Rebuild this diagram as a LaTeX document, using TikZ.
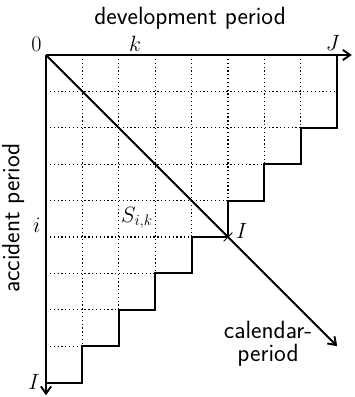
\documentclass[tikz,border=0pt]{standalone}
\usetikzlibrary{arrows.meta,calc}
\begin{document}
\begin{tikzpicture}[x=1cm,y=1cm,
  solid line/.style={line width=1.5pt},
  grid line/.style={line width=1pt, dotted},
  arrowline/.style={line width=1.5pt, -{Straight Barb[length=2mm,width=2.8mm]}},
  lbl/.style={font=\fontsize{17}{20}\selectfont, inner sep=0pt},
  slbl/.style={font=\fontsize{19.5}{22}\selectfont\sffamily, inner sep=0pt}]
\useasboundingbox (-1.264,1.511) rectangle (8.462,-9.396);
% coordinates
\coordinate (O) at (0,0);
\coordinate (xend) at (8.4,0);
\coordinate (yend) at (0,-9.35);
\coordinate (dend) at (8,-8);
\coordinate (P) at (5,-5);
% dotted grid
\foreach \c in {1,...,7} {
  \pgfmathtruncatemacro{\r}{9-\c}
  \draw[grid line] (\c,0) -- (\c,-\r);
}
\foreach \r in {1,...,8} {
  \pgfmathtruncatemacro{\c}{min(9-\r,8)}
  \draw[grid line] (0,-\r) -- (\c,-\r);
}
% staircase
\draw[solid line] (8,0) -- (8,-2) -- (7,-2) -- (7,-3) -- (6,-3) -- (6,-4) -- (5,-4) -- (5,-5) -- (4,-5) -- (4,-6) -- (3,-6) -- (3,-7) -- (2,-7) -- (2,-8) -- (1,-8) -- (1,-9) -- (0,-9);
% axes
\draw[arrowline] (O) -- (xend);
\draw[arrowline] (O) -- (yend);
\draw[arrowline] (O) -- (dend);
% small mark at P
\draw[line width=0.8pt] ($(P)+(-0.12,-0.12)$) -- ($(P)+(0.12,0.12)$);
% labels
\node[slbl] (dev) at (3.96,1.02) {development period};
\node[slbl, rotate=90] (acc) at (-0.9,-4.48) {accident period};
\node[slbl, align=center, font=\fontsize{19.5}{18}\selectfont\sffamily] (cal) at (6.1,-7.94) {calendar-\\period};
\node[lbl] (zero) at (-0.26,0.28) {$0$};
\node[lbl] (k) at (2.45,0.30) {$k$};
\node[lbl] (J) at (7.88,0.33) {$J$};
\node[lbl] (i) at (-0.25,-4.67) {$i$};
\node[lbl] (S) at (2.5,-4.48) {$S_{i,k}$};
\node[lbl] (Imid) at (5.38,-4.84) {$I$};
\node[lbl] (Ibot) at (-0.33,-8.98) {$I$};
\end{tikzpicture}
\end{document}
